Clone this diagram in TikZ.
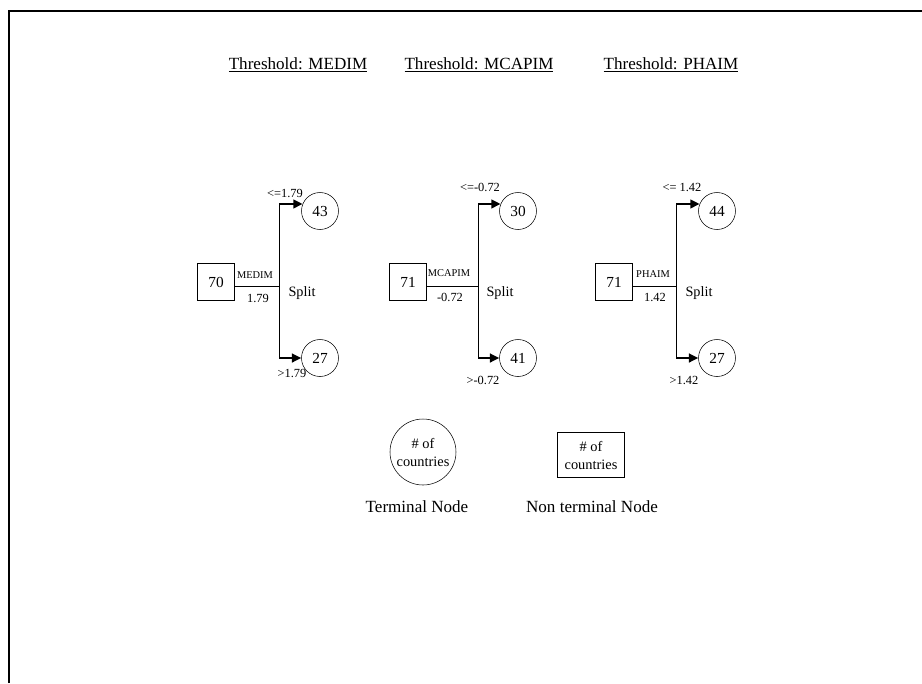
\documentclass[tikz,border=0pt]{standalone}
\usepackage{fontspec}
\setmainfont{Liberation Serif}
\usetikzlibrary{positioning,arrows.meta,calc}

\begin{document}
\begin{tikzpicture}[x=0.75pt,y=-0.75pt,
  nonterm/.style={rectangle,draw,minimum size=27.75pt,inner sep=0pt,font=\fontsize{11.5}{13}\selectfont},
  term/.style={circle,draw,minimum size=27.75pt,inner sep=0pt,font=\fontsize{11.5}{13}\selectfont},
  branch/.style={line width=1.7pt,-{Triangle[length=7pt,width=6.5pt]}},
  varlab/.style={inner sep=0pt,font=\fontsize{7.8}{9}\selectfont},
  cutlab/.style={inner sep=0pt,font=\fontsize{9.3}{11}\selectfont},
  splitlab/.style={inner sep=0pt,font=\fontsize{10.7}{12}\selectfont},
  title/.style={inner sep=0pt,font=\fontsize{12.8}{15}\selectfont},
  legtext/.style={align=center,inner sep=0pt,font=\fontsize{10.8}{13.5}\selectfont}]
  \useasboundingbox (0,0) rectangle (922,683);
  % frame
  \draw[line width=1.1pt] (9,683) -- (9,11) -- (922,11);
  % titles
  \node[title] (th1) at (298,65) {\underline{Threshold: MEDIM}};
  \node[title] (th2) at (479,65) {\underline{Threshold: MCAPIM}};
  \node[title] (th3) at (671,65) {\underline{Threshold: PHAIM}};

  % tree MEDIM
  \node[nonterm] (r1) at (216,282) {70};
  \node[term] (t1) at (320,211) {43};
  \node[term] (b1) at (320,358) {27};
  \coordinate (s1) at (279,286);
  \draw (r1.east |- s1) -- (s1);
  \draw (t1.158 -| s1) -- (b1.west -| s1);
  \draw[branch] (t1.158 -| s1) -- (t1.158);
  \draw[branch] (b1.west -| s1) -- (b1.west);
  \node[varlab] (v1) at (255,275) {MEDIM};
  \node[cutlab] (c1) at (258,298) {1.79};
  \node[cutlab] (lo1) at (285,193) {<=1.79};
  \node[cutlab] (hi1) at (292,373) {>1.79};
  \node[splitlab] (sp1) at (302,293) {Split};

  % tree MCAPIM
  \node[nonterm] (r2) at (408,282) {71};
  \node[term] (t2) at (518,211) {30};
  \node[term] (b2) at (518,358) {41};
  \coordinate (s2) at (478,286);
  \draw (r2.east |- s2) -- (s2);
  \draw (t2.158 -| s2) -- (b2.west -| s2);
  \draw[branch] (t2.158 -| s2) -- (t2.158);
  \draw[branch] (b2.west -| s2) -- (b2.west);
  \node[varlab] (v2) at (449,273) {MCAPIM};
  \node[cutlab] (c2) at (450,297) {-0.72};
  \node[cutlab] (lo2) at (480,187) {<=-0.72};
  \node[cutlab] (hi2) at (483,380) {>-0.72};
  \node[splitlab] (sp2) at (500,293) {Split};

  % tree PHAIM
  \node[nonterm] (r3) at (614,282) {71};
  \node[term] (t3) at (717,211) {44};
  \node[term] (b3) at (717,358) {27};
  \coordinate (s3) at (676,286);
  \draw (r3.east |- s3) -- (s3);
  \draw (t3.158 -| s3) -- (b3.west -| s3);
  \draw[branch] (t3.158 -| s3) -- (t3.158);
  \draw[branch] (b3.west -| s3) -- (b3.west);
  \node[varlab] (v3) at (653,274) {PHAIM};
  \node[cutlab] (c3) at (655,297) {1.42};
  \node[cutlab] (lo3) at (682,187) {<= 1.42};
  \node[cutlab] (hi3) at (684,380) {>1.42};
  \node[splitlab] (sp3) at (699,293) {Split};

  % legend
  \node[term,minimum size=49.5pt,legtext] (lterm) at (423,452) {\# of\\countries};
  \node[nonterm,minimum width=50pt,minimum height=34pt,legtext] (lnon) at (591,455) {\# of\\countries};
  \node[title] (ltermlab) at (417,507) {Terminal Node};
  \node[title] (lnonlab) at (592,507) {Non terminal Node};
\end{tikzpicture}
\end{document}
